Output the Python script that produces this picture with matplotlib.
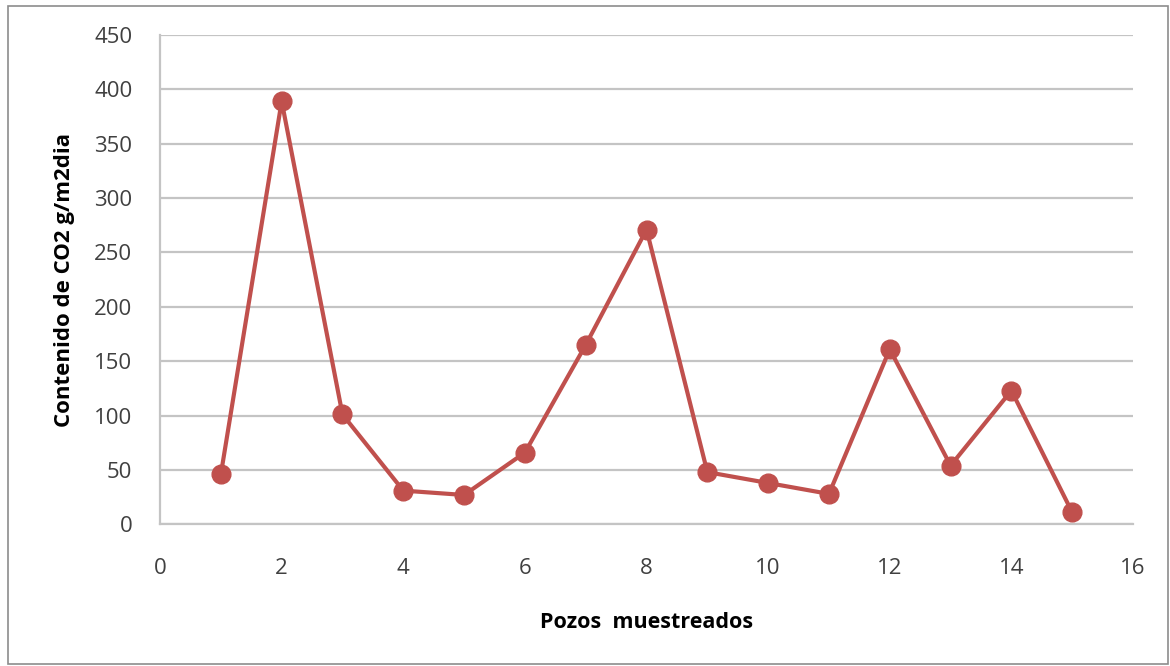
import matplotlib
matplotlib.use("Agg")
import matplotlib.pyplot as plt
from matplotlib.patches import Rectangle

# Sampled wells and measured CO2 flux
pozos = [1, 2, 3, 4, 5, 6, 7, 8, 9, 10, 11, 12, 13, 14, 15]
co2 = [46, 389, 101, 31, 27, 66, 165, 271, 48, 38, 28, 161, 54, 123, 11]
x_ticks = [0, 2, 4, 6, 8, 10, 12, 14, 16]
y_ticks = [0, 50, 100, 150, 200, 250, 300, 350, 400, 450]

plt.rcParams['font.family'] = ['Open Sans', 'DejaVu Sans']

fig = plt.figure(figsize=(11.7, 6.66), dpi=100)
ax = fig.add_axes([0.1368, 0.2127, 0.8316, 0.7349])

red = '#C0504D'
grid_c = '#C4C4C4'

ax.plot(pozos, co2, color=red, linewidth=3.0, marker='o', markersize=13.5,
        markerfacecolor=red, markeredgecolor=red, zorder=3)

ax.set_xlim(0, 16)
ax.set_ylim(0, 450)
ax.set_xticks(x_ticks)
ax.set_yticks(y_ticks)
ax.yaxis.grid(True, color=grid_c, linewidth=1.6)
ax.set_axisbelow(True)

for s in ['top', 'right']:
    ax.spines[s].set_visible(False)
for s in ['left', 'bottom']:
    ax.spines[s].set_color(grid_c)
    ax.spines[s].set_linewidth(1.6)

ax.tick_params(axis='both', length=0, labelsize=16, labelcolor='#404040')
ax.tick_params(axis='x', pad=24)
ax.tick_params(axis='y', pad=20)

ax.set_xlabel('Pozos  muestreados', fontsize=15.5, fontweight='bold', labelpad=24)
ax.set_ylabel('Contenido de CO2 g/m2dia', fontsize=16, fontweight='bold', labelpad=14)

# outer chart frame
fig.patches.append(Rectangle((8 / 1170, 2 / 666), 1160 / 1170, 658 / 666,
                             transform=fig.transFigure, fill=False,
                             edgecolor='#8C8C8C', linewidth=1.2))

fig.savefig('out.png', dpi=100)
